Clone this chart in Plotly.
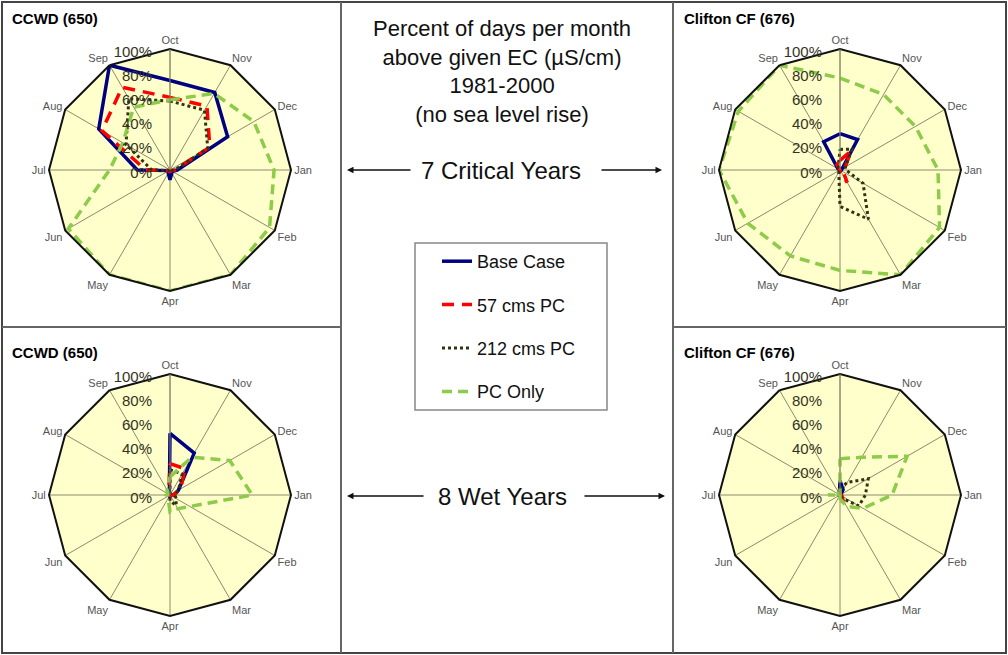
import plotly.graph_objects as go

months = ["Oct", "Nov", "Dec", "Jan", "Feb", "Mar", "Apr", "May", "Jun", "Jul", "Aug", "Sep"]
radial_ticks = [0, 0.2, 0.4, 0.6, 0.8, 1.0]
radial_labels = ["0%", "20%", "40%", "60%", "80%", "100%"]

series_names = ["Base Case", "57 cms PC", "212 cms PC", "PC Only"]

# CCWD (650) - 7 Critical Years
ccwd_crit_base = [0.74, 0.74, 0.55, 0.06, 0.02, 0.03, 0.08, 0.03, 0.01, 0.27, 0.68, 1.00]
ccwd_crit_57 = [0.60, 0.61, 0.38, 0.04, 0.01, 0.01, 0.02, 0.01, 0.01, 0.20, 0.65, 0.79]
ccwd_crit_212 = [0.57, 0.57, 0.36, 0.04, 0.01, 0.01, 0.02, 0.01, 0.01, 0.15, 0.42, 0.68]
ccwd_crit_pc = [0.58, 0.73, 0.80, 0.86, 0.95, 1.00, 1.00, 1.00, 0.97, 0.50, 0.45, 0.60]

# Clifton CF (676) - 7 Critical Years
clif_crit_base = [0.30, 0.29, 0.02, 0.01, 0.00, 0.00, 0.00, 0.00, 0.00, 0.00, 0.02, 0.27]
clif_crit_57 = [0.08, 0.18, 0.05, 0.02, 0.03, 0.12, 0.02, 0.00, 0.00, 0.00, 0.00, 0.05]
clif_crit_212 = [0.17, 0.20, 0.05, 0.05, 0.22, 0.47, 0.30, 0.02, 0.00, 0.00, 0.00, 0.03]
clif_crit_pc = [0.76, 0.72, 0.72, 0.81, 0.95, 1.00, 0.83, 0.82, 0.88, 1.00, 0.97, 1.00]

# CCWD (650) - 8 Wet Years
ccwd_wet_base = [0.51, 0.40, 0.08, 0.03, 0.01, 0.01, 0.01, 0.00, 0.00, 0.00, 0.00, 0.01]
ccwd_wet_57 = [0.26, 0.25, 0.10, 0.03, 0.01, 0.00, 0.00, 0.00, 0.00, 0.00, 0.00, 0.02]
ccwd_wet_212 = [0.21, 0.20, 0.08, 0.04, 0.06, 0.10, 0.05, 0.00, 0.00, 0.00, 0.00, 0.00]
ccwd_wet_pc = [0.15, 0.36, 0.57, 0.68, 0.19, 0.13, 0.14, 0.03, 0.02, 0.03, 0.02, 0.05]

# Clifton CF (676) - 8 Wet Years
clif_wet_base = [0.12, 0.05, 0.01, 0.00, 0.00, 0.00, 0.00, 0.00, 0.00, 0.00, 0.00, 0.01]
clif_wet_57 = [0.02, 0.01, 0.00, 0.00, 0.02, 0.05, 0.06, 0.00, 0.00, 0.00, 0.00, 0.00]
clif_wet_212 = [0.05, 0.12, 0.27, 0.21, 0.18, 0.03, 0.00, 0.00, 0.00, 0.02, 0.00, 0.00]
clif_wet_pc = [0.30, 0.36, 0.64, 0.43, 0.22, 0.11, 0.03, 0.00, 0.00, 0.10, 0.02, 0.00]

panels = [
    ("polar", "CCWD (650)", [ccwd_crit_base, ccwd_crit_57, ccwd_crit_212, ccwd_crit_pc]),
    ("polar2", "Clifton CF (676)", [clif_crit_base, clif_crit_57, clif_crit_212, clif_crit_pc]),
    ("polar3", "CCWD (650)", [ccwd_wet_base, ccwd_wet_57, ccwd_wet_212, ccwd_wet_pc]),
    ("polar4", "Clifton CF (676)", [clif_wet_base, clif_wet_57, clif_wet_212, clif_wet_pc]),
]

styles = [
    dict(color="#000080", width=3.5, dash="solid"),
    dict(color="#FF0000", width=3.5, dash="12px,8px"),
    dict(color="#333311", width=3, dash="dot"),
    dict(color="#8DCB4A", width=3.5, dash="10px,6px"),
]

W, H = 1008, 655
FONT = "Liberation Sans, Arial, sans-serif"

fig = go.Figure()
for pi, (sub, title, data) in enumerate(panels):
    for si, vals in enumerate(data):
        fig.add_trace(go.Scatterpolar(
            r=vals + vals[:1],
            theta=months + months[:1],
            mode="lines",
            name=series_names[si],
            legendgroup=series_names[si],
            showlegend=(pi == 0),
            line=styles[si],
            subplot=sub,
            hoverinfo="skip",
        ))

centers = [(170, 170), (840, 170), (170, 495), (840, 495)]
R = 121


def domain(cx, cy):
    return dict(x=[(cx - R) / W, (cx + R) / W], y=[1 - (cy + R) / H, 1 - (cy - R) / H])


layout_polars = {}
for (sub, title, data), (cx, cy) in zip(panels, centers):
    layout_polars[sub] = dict(
        domain=domain(cx, cy),
        bgcolor="#FFFFCC",
        gridshape="linear",
        angularaxis=dict(
            direction="clockwise", rotation=90, type="category",
            categoryorder="array", categoryarray=months,
            showline=True, linecolor="#111111", linewidth=2,
            showgrid=True, gridcolor="#8C8A6A", gridwidth=1,
            ticks="", tickfont=dict(family=FONT, size=11, color="#555555"),
        ),
        radialaxis=dict(
            range=[0, 1], angle=90, side="counterclockwise",
            tickvals=radial_ticks, ticktext=radial_labels,
            showgrid=False, showline=True, linecolor="#8C8A6A", linewidth=1,
            ticks="outside", ticklen=4, tickcolor="rgba(0,0,0,0)",
            tickfont=dict(family=FONT, size=15, color="#333322"),
        ),
    )

annotations = []
# panel titles
for (sub, title, data), (x, y) in zip(panels, [(10, 18), (682, 18), (10, 352), (682, 352)]):
    annotations.append(dict(x=x / W, y=1 - y / H, xref="paper", yref="paper", xanchor="left",
                            yanchor="middle", showarrow=False, text="<b>%s</b>" % title,
                            font=dict(family=FONT, size=15, color="#000000")))

annotations.append(dict(
    x=502 / W, y=1 - 14 / H, xref="paper", yref="paper", showarrow=False,
    xanchor="center", yanchor="top",
    text="Percent of days per month<br>above given EC (\u00b5S/cm)<br>1981-2000<br>(no sea level rise)",
    font=dict(family=FONT, size=22, color="#111111"), align="center"))

annotations.append(dict(x=501 / W, y=1 - 170 / H, xref="paper", yref="paper", showarrow=False,
                        xanchor="center", yanchor="middle",
                        text="7 Critical Years", font=dict(family=FONT, size=24, color="#111111")))
annotations.append(dict(x=502 / W, y=1 - 496 / H, xref="paper", yref="paper", showarrow=False,
                        xanchor="center", yanchor="middle",
                        text="8 Wet Years", font=dict(family=FONT, size=24, color="#111111")))

for (head, tail, y) in [(347, 412, 170), (662, 600, 170), (347, 425, 496), (665, 583, 496)]:
    annotations.append(dict(x=head / W, y=1 - y / H, xref="paper", yref="paper", text="",
                            showarrow=True, ax=tail - head, ay=0, arrowhead=2, arrowsize=1,
                            arrowwidth=1.3, arrowcolor="#111111"))

shapes = []
line_style = dict(color="#666666", width=2)
shapes.append(dict(type="rect", xref="paper", yref="paper", x0=2 / W, x1=1006 / W,
                   y0=1 - 653 / H, y1=1 - 2 / H, line=dict(color="#444444", width=2)))
for x in (341, 673):
    shapes.append(dict(type="line", xref="paper", yref="paper", x0=x / W, x1=x / W,
                       y0=1 - 653 / H, y1=1 - 2 / H, line=line_style))
for (x0, x1) in ((2, 341), (673, 1006)):
    shapes.append(dict(type="line", xref="paper", yref="paper", x0=x0 / W, x1=x1 / W,
                       y0=1 - 327 / H, y1=1 - 327 / H, line=line_style))
# legend frame
shapes.append(dict(type="rect", xref="paper", yref="paper", x0=415 / W, x1=607 / W,
                   y0=1 - 410 / H, y1=1 - 243 / H, line=dict(color="#888888", width=1.5)))

fig.update_layout(
    width=W, height=H,
    margin=dict(l=0, r=0, t=0, b=0),
    paper_bgcolor="white",
    font=dict(family=FONT),
    showlegend=True,
    legend=dict(
        x=437 / W, y=1 - 243 / H, xanchor="left", yanchor="top",
        borderwidth=0, bgcolor="rgba(0,0,0,0)",
        font=dict(family=FONT, size=18, color="#111111"),
        tracegroupgap=17, traceorder="grouped",
    ),
    annotations=annotations,
    shapes=shapes,
    **layout_polars,
)

fig.write_html("out.html", config={"displayModeBar": False},
               post_script="document.body.style.margin='0px';")
